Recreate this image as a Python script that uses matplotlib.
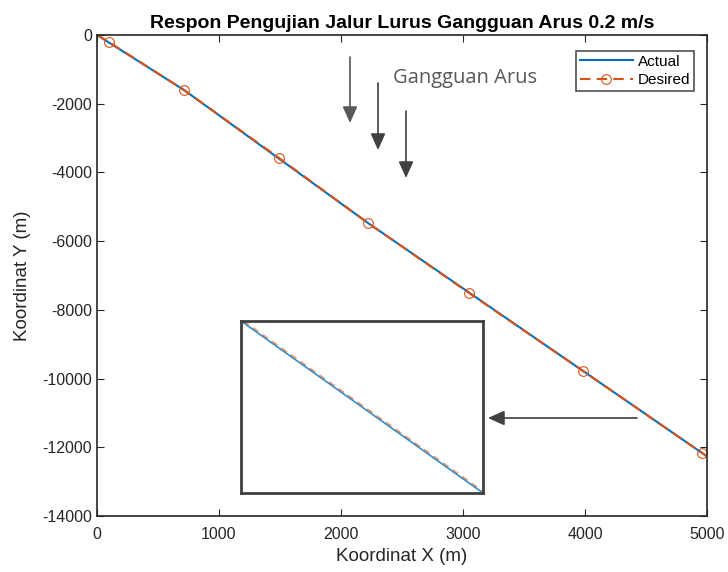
import matplotlib.pyplot as plt
from matplotlib.patches import FancyArrowPatch

# data
actual_x = [0, 713, 2221, 3984, 4990]
actual_y = [0, -1601, -5471, -9779, -12240]
desired_x = [0, 98, 713, 1492, 2221, 3049, 3984, 4959, 4990]
desired_y = [0, -204, -1601, -3580, -5471, -7509, -9779, -12165, -12240]

# zoomed segment shown in the inset box
zoom_actual_x = [4370, 4410]
zoom_actual_y = [-10860, -10959]
zoom_desired_x = [4370.4, 4410.4]
zoom_desired_y = [-10860, -10959]

x_ticks = [0, 1000, 2000, 3000, 4000, 5000]
y_ticks = [0, -2000, -4000, -6000, -8000, -10000, -12000, -14000]

W, H = 728, 572
plt.rcParams["font.family"] = ["Liberation Sans", "DejaVu Sans"]
plt.rcParams["axes.unicode_minus"] = False
fig = plt.figure(figsize=(W / 100, H / 100), dpi=100)
ax = fig.add_axes([97 / W, 1 - 516 / H, 610 / W, 481 / H])

ax.plot(actual_x, actual_y, color="#0072BD", lw=1.5, label="Actual")
ax.plot(desired_x, desired_y, color="#D95319", lw=1.5, ls=(0, (5, 3)),
        marker="o", ms=7, mfc="none", markeredgewidth=0.8,
        markevery=list(range(1, len(desired_x) - 1)), label="Desired")

ax.set_xlim(0, 5000)
ax.set_ylim(-14000, 0)
ax.set_xticks(x_ticks)
ax.set_yticks(y_ticks)
ax.tick_params(direction="in", top=True, right=True, labelsize=11.5,
               colors="#262626", length=5)
ax.tick_params(axis="x", pad=8)
for s in ax.spines.values():
    s.set_color("#262626")
    s.set_linewidth(1.2)
ax.set_title("Respon Pengujian Jalur Lurus Gangguan Arus 0.2 m/s",
             fontsize=14, fontweight="bold", pad=5)
ax.set_xlabel("Koordinat X (m)", fontsize=13.5, color="#262626", labelpad=4)
ax.set_ylabel("Koordinat Y (m)", fontsize=13.5, color="#262626", labelpad=8)

leg = ax.legend(loc="upper right", fontsize=11, frameon=True, fancybox=False,
                edgecolor="#262626", borderpad=0.25, handlelength=3.5,
                labelspacing=0.3, handletextpad=0.3,
                bbox_to_anchor=(694 / W, 1 - 51 / H),
                bbox_transform=fig.transFigure, borderaxespad=0)
leg.get_frame().set_linewidth(1.2)

# inset with the zoomed segment
ins = fig.add_axes([241 / W, 1 - 493 / H, 242 / W, 172 / H])
ins.plot(zoom_actual_x, zoom_actual_y, color="#0072BD", lw=1.2, alpha=0.8)
ins.plot(zoom_desired_x, zoom_desired_y, color="#D95319", lw=1.2,
         ls=(0, (4, 3)), alpha=0.6)
ins.set_xlim(zoom_actual_x)
ins.set_ylim(zoom_actual_y[1], zoom_actual_y[0])
ins.set_xticks([])
ins.set_yticks([])
for s in ins.spines.values():
    s.set_color("#404040")
    s.set_linewidth(2)


def fig_arrow(x0, y0, x1, y1, color="#404040"):
    fig.add_artist(FancyArrowPatch(
        (x0 / W, 1 - y0 / H), (x1 / W, 1 - y1 / H),
        transform=fig.transFigure, color=color, lw=1.2,
        arrowstyle="-|>,head_length=1.0,head_width=0.45",
        mutation_scale=10, shrinkA=0, shrinkB=0))


# arrow pointing at the inset
fig_arrow(637, 418, 488, 418)
# current disturbance arrows
fig_arrow(350, 57, 350, 123, color="#595959")
fig_arrow(378, 83, 378, 150)
fig_arrow(406, 111, 406, 178)
fig.text(393 / W, 1 - 78 / H, "Gangguan Arus", fontsize=14.5,
         family=["Open Sans", "DejaVu Sans"], color="#595959", va="center")

fig.savefig("out.png", dpi=100)
